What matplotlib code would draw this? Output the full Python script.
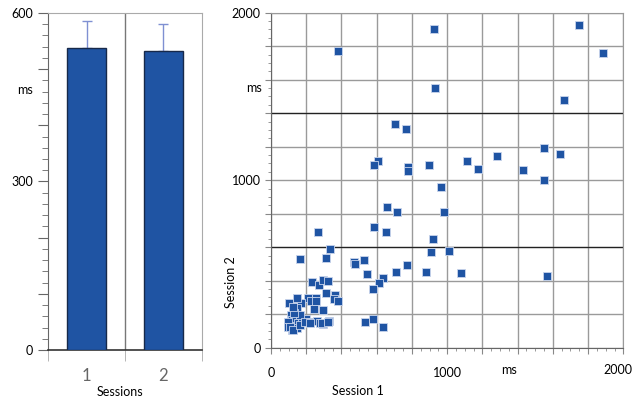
import matplotlib
matplotlib.use("Agg")
import matplotlib.pyplot as plt
from matplotlib.ticker import MultipleLocator, FuncFormatter, FixedLocator
import matplotlib.transforms as mtrans

plt.rcParams['font.family'] = ['Lato', 'DejaVu Sans']

# bar panel data (mean RT per session, upper SD)
sessions = [1, 2]
session_labels = ['1', '2']
mean_rt = [538, 533]
sd_rt = [47, 48]

# scatter panel data: session 1 vs session 2 RT (ms)
s1_ms = [379, 924, 1746, 1884, 931, 1664, 706, 769, 1551, 1638, 1282, 1111, 608, 583,
         897, 776, 780, 1176, 1430, 1551, 967,
         661, 714, 984, 587, 269, 651, 918, 335, 909, 1009, 165, 312, 473, 475, 528,
         774, 710, 880, 547, 1079, 1564, 636, 612, 581, 231, 271, 297, 322, 314, 362,
         360, 383, 148, 212, 254, 225, 256, 246, 104, 169, 149, 297, 536, 578, 638, 329,
         114, 118, 112, 118, 136, 155, 146, 174, 199, 222, 260, 278, 297, 98, 98, 165,
         131, 127, 146, 108, 127, 165, 193, 222, 288, 326]
s2_ms = [1773, 1903, 1929, 1758, 1552, 1477, 1335, 1306, 1194, 1156, 1144, 1115, 1115, 1089,
         1093, 1077, 1053, 1067, 1061, 1001, 959,
         840, 812, 810, 722, 693, 693, 651, 589, 573, 579, 530, 535, 512, 500, 524,
         494, 454, 454, 440, 444, 428, 418, 388, 349, 394, 374, 404, 398, 325, 316,
         289, 281, 299, 299, 297, 279, 281, 231, 265, 269, 235, 227, 151, 173, 124, 159,
         195, 165, 136, 106, 175, 146, 116, 165, 170, 155, 161, 146, 141, 155, 125, 195,
         205, 245, 295, 125, 106, 136, 155, 149, 146, 155]
cut_lines = [600, 1400]

BLUE = '#1f54a3'
GRID = '#9a9a9a'

fig = plt.figure(figsize=(6.35, 4.01), dpi=100)

# ---------------- left: bar chart ----------------
axb = fig.add_axes([0.0756, 0.1272, 0.2425, 0.8404])
axb.bar(sessions, mean_rt, width=0.5, color=BLUE, edgecolor='#17294a', linewidth=1, zorder=3)
axb.errorbar(sessions, mean_rt, yerr=[[0, 0], sd_rt], fmt='none', ecolor='#7f90d2',
             elinewidth=1, capsize=3.5, capthick=1, zorder=2)
axb.set_xlim(0.5, 2.5)
axb.set_ylim(0, 600)
axb.axvline(1.5, color='#777777', linewidth=1, zorder=1)

for s in ['top', 'right']:
    axb.spines[s].set_color('#aaaaaa')
axb.spines['left'].set_color('#666666')
axb.spines['bottom'].set_color('#333333')
axb.spines['bottom'].set_linewidth(1.2)

axb.set_xticks(sessions)
axb.set_xticklabels(session_labels)
axb.xaxis.set_minor_locator(FixedLocator([0.5, 1.5, 2.5]))
axb.tick_params(axis='x', which='major', length=0, pad=13, labelsize=12, labelcolor='#666666')
axb.tick_params(axis='x', which='minor', length=8, color='#aaaaaa', direction='out')

axb.yaxis.set_major_locator(MultipleLocator(100))
axb.yaxis.set_minor_locator(MultipleLocator(20))
axb.yaxis.set_major_formatter(FuncFormatter(lambda v, p: f'{v:.0f}' if v % 300 == 0 else ''))
axb.tick_params(axis='y', which='major', length=7, color='#666666', labelsize=9, pad=4)
axb.tick_params(axis='y', which='minor', length=4, color='#666666')
axb.text(-0.1, 463, 'ms', transform=mtrans.blended_transform_factory(axb.transAxes, axb.transData),
         ha='right', va='center', fontsize=9)
axb.text(0.47, -0.125, 'Sessions', transform=axb.transAxes, ha='center', va='center', fontsize=9)

# ---------------- right: scatter ----------------
axs = fig.add_axes([0.4268, 0.1329, 0.5548, 0.8354])
axs.set_xlim(0, 2000)
axs.set_ylim(0, 2000)
axs.xaxis.set_major_locator(MultipleLocator(200))
axs.yaxis.set_major_locator(MultipleLocator(200))
axs.xaxis.set_minor_locator(MultipleLocator(50))
axs.yaxis.set_minor_locator(MultipleLocator(50))
axs.xaxis.set_major_formatter(FuncFormatter(lambda v, p: f'{v:.0f}' if v in (0, 1000) else ''))
axs.yaxis.set_major_formatter(FuncFormatter(lambda v, p: f'{v:.0f}' if v % 1000 == 0 else ''))
axs.grid(True, which='major', color=GRID, linewidth=1, zorder=0)
for c in cut_lines:
    axs.axhline(c, color='#222222', linewidth=0.9, zorder=1)
axs.set_axisbelow(True)

axs.scatter(s1_ms, s2_ms, marker='s', s=30, color=BLUE, edgecolors='#c9d5ec',
            linewidths=0.6, zorder=3)

for s in ['top', 'right']:
    axs.spines[s].set_color(GRID)
axs.spines['left'].set_color('#666666')
axs.spines['bottom'].set_color('#666666')
axs.tick_params(axis='both', which='major', length=4, color='#888888', labelsize=9)
axs.tick_params(axis='both', which='minor', length=2.5, color='#888888')
axs.tick_params(axis='x', which='major', pad=10)

xb = mtrans.blended_transform_factory(axs.transData, axs.transAxes)
# last x label, nudged in so it stays inside the figure
axs.text(1972, -0.068, '2000', transform=xb, ha='center', va='center', fontsize=9)
axs.text(1352, -0.068, 'ms', transform=xb, ha='center', va='center', fontsize=9)
axs.text(-0.025, 1550, 'ms', transform=mtrans.blended_transform_factory(axs.transAxes, axs.transData),
         ha='right', va='center', fontsize=9)
axs.text(494, -0.13, 'Session 1', transform=xb, ha='center', va='center', fontsize=9)
axs.text(-0.115, 0.195, 'Session 2', transform=axs.transAxes, rotation=90,
         ha='center', va='center', fontsize=9)

fig.savefig('out.png', dpi=100)
